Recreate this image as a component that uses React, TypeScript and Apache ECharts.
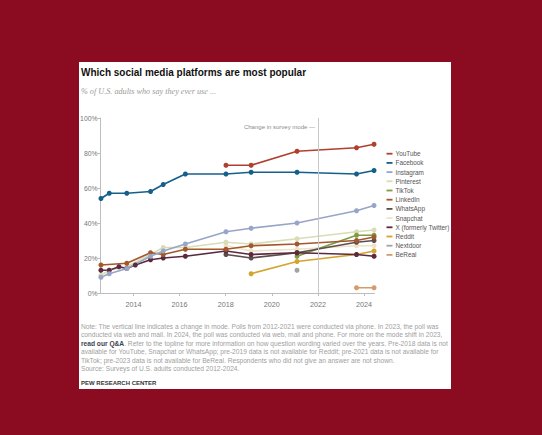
import { useEffect, useRef } from "react";
import * as echarts from "echarts";

// Survey dates (decimal years) shared by all series
const surveyDates = [2012.59, 2012.95, 2013.37, 2013.71, 2014.08, 2014.74, 2015.29, 2016.25, 2018.01, 2019.1, 2021.09, 2023.67, 2024.43];

const youtube = [null, null, null, null, null, null, null, null, 73, 73, 81, 83, 85];
const facebook = [54, 57, null, 57, null, 58, 62, 68, 68, 69, 69, 68, 70];
const instagram = [9, 11, null, 14, null, 21, 24, 28, 35, 37, 40, 47, 50];
const pinterest = [10, 13, null, 15, null, 22, 26, 26, 29, 28, 31, 35, 36];
const tiktok = [null, null, null, null, null, null, null, null, null, null, 21, 33, 33];
const linkedin = [16, null, null, 17, null, 23, 22, 25, 25, 27, 28, 30, 32];
const whatsapp = [null, null, null, null, null, null, null, null, 22, 20, 23, 29, 30];
const snapchat = [null, null, null, null, null, null, null, null, 27, 24, 25, 27, 27];
const xTwitter = [13, 13, 15, 14, 16, 19, 20, 21, 24, 22, 23, 22, 21];
const reddit = [null, null, null, null, null, null, null, null, null, 11, 18, 22, 24];
const nextdoor = [null, null, null, null, null, null, null, null, null, null, 13, null, null];
const bereal = [null, null, null, null, null, null, null, null, null, null, null, 3, 3];

const yearTicks = [2014, 2016, 2018, 2020, 2022, 2024];
const yTicks = [0, 20, 40, 60, 80, 100];
const modeChangeYear = 2022;

const legendOrder = ["YouTube", "Facebook", "Instagram", "Pinterest", "TikTok", "LinkedIn", "WhatsApp", "Snapchat", "X (formerly Twitter)", "Reddit", "Nextdoor", "BeReal"];

const noteLines = [
  "Note: The vertical line indicates a change in mode. Polls from 2012-2021 were conducted via phone. In 2023, the poll was",
  "conducted via web and mail. In 2024, the poll was conducted via web, mail and phone. For more on the mode shift in 2023,",
  "{b|read our Q&A}. Refer to the topline for more information on how question wording varied over the years. Pre-2018 data is not",
  "available for YouTube, Snapchat or WhatsApp; pre-2019 data is not available for Reddit; pre-2021 data is not available for",
  "TikTok; pre-2023 data is not available for BeReal. Respondents who did not give an answer are not shown.",
  "Source: Surveys of U.S. adults conducted 2012-2024.",
];

const FONT = "'Liberation Sans', Arial, sans-serif";

export default function App() {
  const ref = useRef<HTMLDivElement>(null);
  useEffect(() => {
    if (!ref.current) return;
    const chart = echarts.init(ref.current, null, { renderer: "svg" });

    const mk = (name: string, values: (number | null)[], color: string, extra: any = {}) => ({
      name,
      type: "line",
      data: surveyDates
        .map((d, i) => [d, values[i]])
        .filter((p) => p[1] !== null),
      connectNulls: true,
      symbol: "circle",
      symbolSize: 5,
      showSymbol: true,
      lineStyle: { color, width: 1.7 },
      itemStyle: { color },
      emphasis: { disabled: true },
      ...extra,
    });

    const series: any[] = [
      mk("Nextdoor", nextdoor, "#a3a3a3"),
      mk("Snapchat", snapchat, "#ece4c6"),
      mk("Pinterest", pinterest, "#d8ddb6"),
      mk("BeReal", bereal, "#d69a6c"),
      mk("Reddit", reddit, "#d3a52f"),
      mk("TikTok", tiktok, "#7f9c44"),
      mk("WhatsApp", whatsapp, "#5c4d4f"),
      mk("X (formerly Twitter)", xTwitter, "#5c2a3f"),
      mk("LinkedIn", linkedin, "#a4572a"),
      mk("Instagram", instagram, "#97a5c8"),
      mk("Facebook", facebook, "#14608b", {
        markLine: {
          silent: true,
          symbol: "none",
          label: { show: false },
          lineStyle: { color: "#c8c8c8", width: 1, type: "solid" },
          data: [{ xAxis: modeChangeYear }],
        },
      }),
      mk("YouTube", youtube, "#b13f2e"),
    ];

    const graphics: any[] = [
      { type: "rect", z: -10, shape: { x: 79, y: 62, width: 372, height: 327 }, style: { fill: "#ffffff" } },
      {
        type: "text", x: 81, y: 72.5,
        style: { text: "Which social media platforms are most popular", font: `bold 10px ${FONT}`, fill: "#111", textVerticalAlign: "middle" },
      },
      {
        type: "text", x: 81, y: 91.5,
        style: { text: "% of U.S. adults who say they ever use ...", font: `italic 8.2px 'Liberation Serif', 'DejaVu Serif', serif`, fill: "#9a9a9a", textVerticalAlign: "middle" },
      },
      {
        type: "text", x: 315, y: 127.3,
        style: { text: "Change in survey mode \u2014", font: `6px ${FONT}`, fill: "#8a8a8a", textAlign: "right", textVerticalAlign: "middle" },
      },
      ...noteLines.map((t, i) => ({
        type: "text", x: 81, y: 326.5 + i * 8.45,
        style: {
          text: t,
          font: `6.65px ${FONT}`,
          fill: "#a0a0a0",
          textVerticalAlign: "middle",
          rich: { b: { fontWeight: "bold", fill: "#3b4252", color: "#3b4252", fontSize: 6.65, fontFamily: FONT } },
        },
      })),
      {
        type: "text", x: 81, y: 382.7,
        style: { text: "PEW RESEARCH CENTER", font: `bold 6px ${FONT}`, fill: "#333", textVerticalAlign: "middle" },
      },
    ];

    chart.setOption({
      animation: false,
      backgroundColor: "#8b0b20",
      textStyle: { fontFamily: FONT },
      grid: { left: 100.5, top: 118, right: 542 - 374.5, bottom: 435 - 293, containLabel: false },
      xAxis: {
        type: "value",
        min: 2012.57,
        max: 2024.45,
        axisLine: { show: true, lineStyle: { color: "#bdbdbd", width: 1 } },
        axisTick: { show: true, customValues: yearTicks, length: 3, lineStyle: { color: "#bdbdbd" } },
        axisLabel: { show: true, customValues: yearTicks, formatter: (v: number) => String(v), color: "#777", fontSize: 7.2, margin: 8, fontFamily: FONT },
        splitLine: { show: false },
      },
      yAxis: {
        type: "value",
        min: 0,
        max: 100,
        interval: 20,
        axisLine: { show: true, lineStyle: { color: "#bdbdbd", width: 1 } },
        axisTick: { show: true, length: 3, lineStyle: { color: "#bdbdbd" } },
        axisLabel: { formatter: (v: number) => `${v}%`, color: "#777", fontSize: 6.8, margin: 3, fontFamily: FONT, customValues: yTicks },
        splitLine: { show: false },
      },
      legend: {
        orient: "vertical",
        left: 386.5,
        top: 149.1,
        padding: 0,
        itemGap: 0,
        itemWidth: 6,
        itemHeight: 1.8,
        icon: "rect",
        selectedMode: false,
        data: legendOrder,
        textStyle: { fontSize: 6.4, color: "#555", lineHeight: 9.2, fontFamily: FONT, padding: [0, 0, 0, -2] },
      },
      graphic: graphics,
      series,
    });

    return () => chart.dispose();
  }, []);

  return <div ref={ref} style={{ position: "fixed", left: 0, top: 0, width: 542, height: 435 }} />;
}
